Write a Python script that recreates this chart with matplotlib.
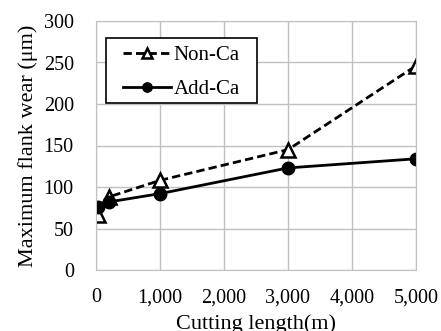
import matplotlib
matplotlib.use("Agg")
import matplotlib.pyplot as plt
from matplotlib.patches import Rectangle
from matplotlib.ticker import FuncFormatter

# data
length_m = [30, 200, 1000, 3000, 5000]
non_ca = [66, 88, 108, 145, 246]
add_ca = [76, 82, 92, 123, 134]

plt.rcParams['font.family'] = ['Liberation Serif', 'DejaVu Serif']

fig = plt.figure(figsize=(4.41, 3.31), dpi=100)
ax = fig.add_axes([96 / 441, 61 / 331, 320 / 441, 249 / 331])

ax.plot(length_m, non_ca, linestyle='--', color='black', linewidth=2,
        marker='^', markersize=10, markerfacecolor='white', markeredgewidth=1.8,
        label='Non-Ca', dashes=(3, 1.5))
ax.plot(length_m, add_ca, linestyle='-', color='black', linewidth=2,
        marker='o', markersize=9, label='Add-Ca')

ax.set_xlim(0, 5000)
ax.set_ylim(0, 300)
ax.set_xticks(range(0, 5001, 1000))
ax.set_yticks(range(0, 301, 50))
ax.xaxis.set_major_formatter(FuncFormatter(lambda v, p: f"{int(v):,}"))
ax.grid(True, color='#c0c0c0', linewidth=1)
ax.set_axisbelow(True)
for s in ax.spines.values():
    s.set_color('#c0c0c0')
ax.tick_params(length=0, labelsize=14.5)
ax.tick_params(axis='x', pad=13)
ax.tick_params(axis='y', pad=16)

ax.set_ylabel('Maximum flank wear (μm)', fontsize=16, labelpad=4)
ax.set_xlabel('Cutting length(m)', fontsize=16, labelpad=5)

# legend box is wider than tall in the original, so draw the frame by hand
box = Rectangle((0.031, 0.671), 0.472, 0.261, transform=ax.transAxes,
                facecolor='white', edgecolor='black', linewidth=1.2, zorder=4)
ax.add_patch(box)
leg = ax.legend(loc='center', bbox_to_anchor=(0.267, 0.793), fontsize=15,
                frameon=False, handlelength=2.3, handletextpad=0.15,
                labelspacing=0.7, borderpad=0, markerscale=0.75)
leg.set_zorder(5)

fig.savefig('out.png', dpi=100)
